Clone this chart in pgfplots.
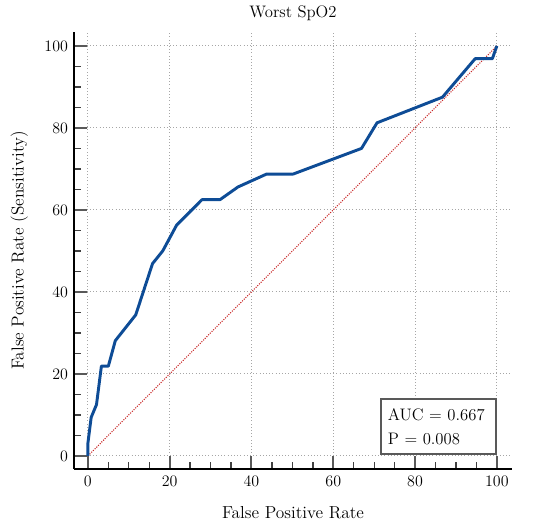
\documentclass[border=0pt]{standalone}
\usepackage{pgfplots}
\pgfplotsset{compat=1.18}

\definecolor{rocblue}{RGB}{14,76,150}
\definecolor{diagred}{RGB}{200,40,40}

\begin{document}
\begin{tikzpicture}[font=\fontsize{13}{15.6}\selectfont]
	\path[use as bounding box] (0,0) rectangle (412.5pt,396pt);
	\begin{axis}[
		at={(55.5pt,44.25pt)},
		anchor=south west,
		scale only axis,
		width=328.5pt,
		height=327.75pt,
		xmin=-3.4, xmax=103.7,
		ymin=-3.2, ymax=103.4,
		axis lines=left,
		axis line style={-, line width=1.5pt, black},
		xtick={0,20,...,100},
		ytick={0,20,...,100},
		minor x tick num=3,
		minor y tick num=3,
		tick align=inside,
		major tick length=9.5pt,
		minor tick length=5pt,
		major tick style={line width=1.5pt, black!65},
		minor tick style={line width=1pt, black!75},
		grid=major,
		major grid style={dotted, black!35, line width=0.7pt},
		tick label style={font=\fontsize{13}{15.6}\selectfont},
		xticklabel style={yshift=-2pt},
		yticklabel style={xshift=-1pt},
		title={Worst SpO2},
		title style={font=\fontsize{12.5}{15}\selectfont, at={(axis description cs:0.5,1)}, anchor=center, yshift=8pt},
		xlabel={False Positive Rate},
		xlabel style={font=\fontsize{13}{15.6}\selectfont, at={(axis description cs:0.5,0)}, anchor=center, yshift=-33pt},
		ylabel={False Positive Rate (Sensitivity)},
		ylabel style={font=\fontsize{13}{15.6}\selectfont, at={(axis description cs:0,0.5)}, anchor=center, rotate=0, yshift=41pt},
		clip=false,
	]
		\addplot[diagred, densely dotted, line width=0.8pt] coordinates {(0,0) (100,100)};
		\addplot[rocblue, line width=2.2pt, line join=round] coordinates {
			(0,0) (0,3.1) (0.8,9.4) (2.1,12.5) (3.3,21.9) (5,21.9) (6.7,28.1)
			(11.7,34.4) (15.8,46.9) (18.3,50) (21.7,56.3) (27.9,62.5) (32.3,62.5)
			(36.7,65.6) (43.7,68.75) (50.2,68.75) (66.9,75) (70.7,81.25)
			(86.7,87.5) (94.7,96.9) (98.9,96.9) (100,100)
		};
		\node[draw=black!65, line width=1.5pt, fill=white, anchor=south east,
			align=left, inner xsep=5pt, inner ysep=7pt, text width=76pt,
			font=\fontsize{12.5}{18}\selectfont]
			at (axis cs:100,0.2) {AUC = 0.667\\P = 0.008};
	\end{axis}
\end{tikzpicture}
\end{document}
